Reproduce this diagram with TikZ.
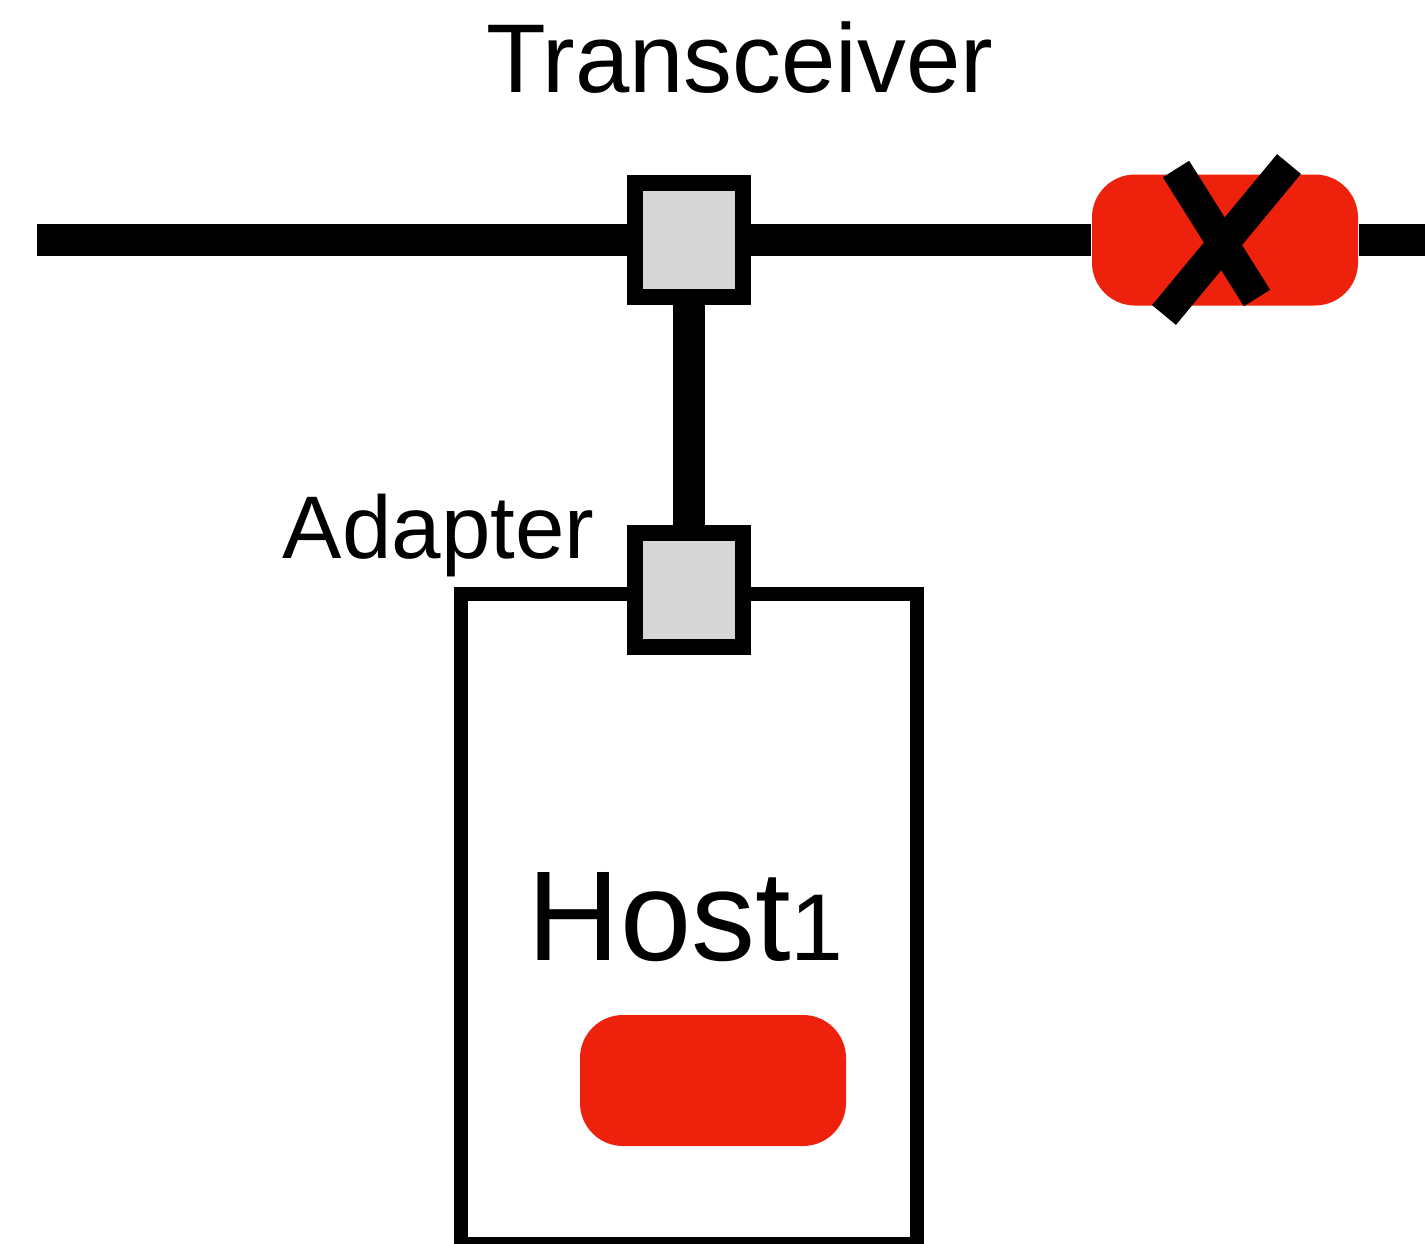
\documentclass[tikz,border=0pt]{standalone}
\usepackage{fontspec}
\setmainfont{Liberation Sans}
\usetikzlibrary{positioning}
\definecolor{framered}{RGB}{238,34,12}
\definecolor{portgray}{RGB}{214,214,214}

\tikzset{
  port/.style={draw, line width=0.16cm, fill=portgray, minimum width=1.08cm, minimum height=1.14cm, inner sep=0},
  pkt/.style={fill=framered, rounded corners=0.43cm, minimum width=2.66cm, minimum height=1.31cm, inner sep=0},
  cable/.style={line width=0.32cm},
  cross/.style={line width=0.31cm},
}

\begin{document}
\begin{tikzpicture}
        \useasboundingbox (0,0) rectangle (14.25,-12.43);

        % Host
        \node[draw, line width=0.14cm, minimum width=4.56cm, minimum height=6.5cm, inner sep=0] (host) at (6.89,-9.19) {};
        \node[pkt] (hostpkt) at (7.13,-10.805) {};
        \node[anchor=base west, inner sep=0, font=\fontsize{36.4}{40}\selectfont] (hostlabel) at (5.27,-9.60) {Host{\fontsize{27}{30}\selectfont 1}};

        % Transceiver and adapter
        \node[port] (trx) at (6.89,-2.40) {};
        \node[port] (adp) at (6.89,-5.90) {};
        \node[anchor=base, inner sep=0, font=\fontsize{27.8}{32}\selectfont] (trxlabel) at (7.40,-0.92) {Transceiver};
        \node[anchor=base east, inner sep=0, font=\fontsize{25.3}{30}\selectfont] (adplabel) at (5.95,-5.58) {Adapter};

        % Cable
        \coordinate (busL) at (0.37,-2.40);
        \coordinate (busR) at (14.30,-2.40);
        \node[pkt] (buspkt) at (12.25,-2.40) {};
        \draw[cable] (busL) -- (trx);
        \draw[cable] (trx) -- (buspkt);
        \draw[cable] (buspkt) -- (busR);
        \draw[cable] (trx) -- (adp);

        % Collision mark
        \draw[cross] (11.76,-1.69) -- (12.57,-2.98);
        \draw[cross] (12.89,-1.64) -- (11.64,-3.15);

    \end{tikzpicture}
\end{document}
